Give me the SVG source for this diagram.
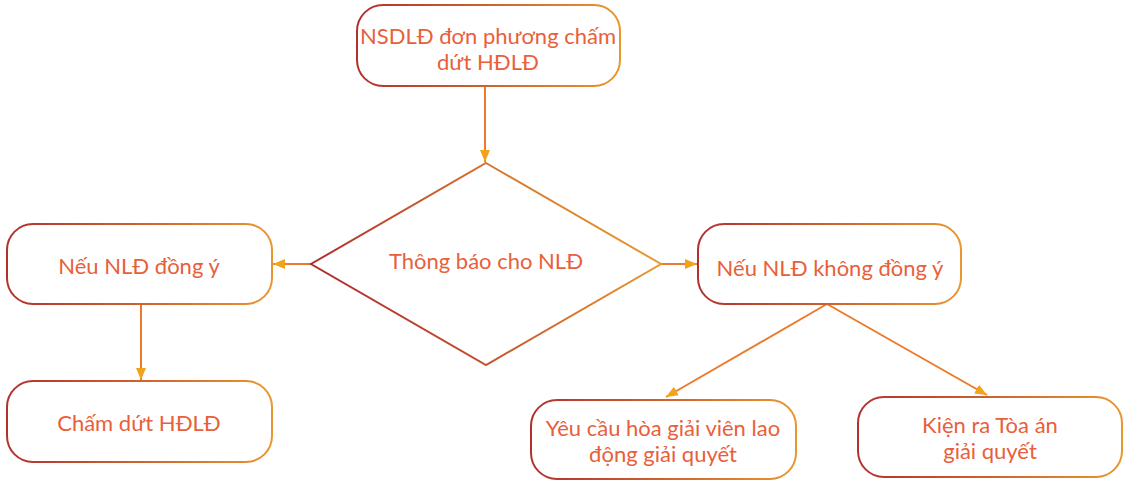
<svg xmlns="http://www.w3.org/2000/svg" width="1128" height="481" viewBox="0 0 1128 481">
<defs>
<linearGradient id="gH" x1="0" y1="0" x2="1" y2="0">
<stop offset="0" stop-color="#B2302E"/>
<stop offset="1" stop-color="#E8962E"/>
</linearGradient>
<linearGradient id="gD" gradientUnits="userSpaceOnUse" x1="360" y1="330" x2="610" y2="190">
<stop offset="0" stop-color="#B2302E"/>
<stop offset="1" stop-color="#E8962E"/>
</linearGradient>
<marker id="ah" viewBox="0 0 12 10" refX="12" refY="5" markerWidth="12" markerHeight="10" markerUnits="userSpaceOnUse" orient="auto">
<path d="M0,0 L12,5 L0,10 Z" fill="#F2A31B"/>
</marker>
<style>
.box{fill:#FFFFFF;stroke:url(#gH);stroke-width:2}
.dia{fill:#FFFFFF;stroke:url(#gD);stroke-width:2}
.t{font-family:Lato,"Liberation Sans",sans-serif;font-size:22px;fill:#E8603A;text-anchor:middle}
.c{stroke:#EC7A2C;stroke-width:2;fill:none;marker-end:url(#ah)}
</style>
</defs>
<rect width="1128" height="481" fill="#FFFFFF"/>
<g id="connectors">
<line class="c" x1="485" y1="87" x2="485" y2="162"/>
<line class="c" x1="311" y1="264" x2="273" y2="264"/>
<line class="c" x1="661" y1="264" x2="697" y2="264"/>
<line class="c" x1="141" y1="305" x2="141" y2="380"/>
<line class="c" x1="827" y1="304" x2="666" y2="397"/>
<line class="c" x1="827" y1="304" x2="987" y2="395"/>
</g>
<g id="n1">
<rect class="box" x="357" y="5" width="263" height="81" rx="26"/>
<text class="t" x="488" y="44">NSDLĐ đơn phương chấm</text>
<text class="t" x="488" y="70">dứt HĐLĐ</text>
</g>
<g id="n2">
<polygon class="dia" points="486,163 661,264 486,365 311,264"/>
<text class="t" x="486" y="269">Thông báo cho NLĐ</text>
</g>
<g id="n3">
<rect class="box" x="7" y="224" width="265" height="80" rx="26"/>
<text class="t" x="139" y="274">Nếu NLĐ đồng ý</text>
</g>
<g id="n4">
<rect class="box" x="698" y="224" width="263" height="80" rx="26"/>
<text class="t" x="830" y="276">Nếu NLĐ không đồng ý</text>
</g>
<g id="n5">
<rect class="box" x="7" y="381" width="265" height="81" rx="26"/>
<text class="t" x="139" y="431">Chấm dứt HĐLĐ</text>
</g>
<g id="n6">
<rect class="box" x="531" y="400" width="265" height="79" rx="26"/>
<text class="t" x="663" y="436">Yêu cầu hòa giải viên lao</text>
<text class="t" x="663" y="462">động giải quyết</text>
</g>
<g id="n7">
<rect class="box" x="858" y="397" width="264" height="80" rx="26"/>
<text class="t" x="990" y="433">Kiện ra Tòa án</text>
<text class="t" x="990" y="459">giải quyết</text>
</g>
</svg>
